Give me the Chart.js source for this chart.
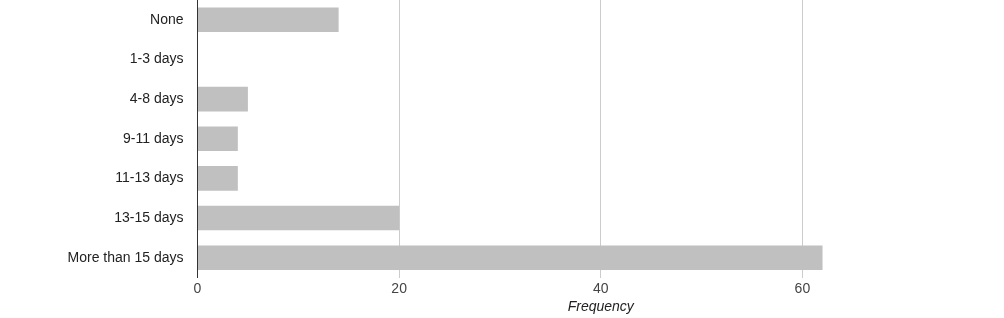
<!DOCTYPE html>
<html>
<head>
<meta charset="utf-8">
<script src="https://cdn.jsdelivr.net/npm/chart.js@4"></script>
<style>
html,body{margin:0;padding:0;background:#fff;}
#wrap{width:1004px;height:318px;position:relative;}
</style>
</head>
<body>
<div id="wrap"><canvas id="c" width="1004" height="318"></canvas></div>
<script>
const categories = ["None", "1-3 days", "4-8 days", "9-11 days", "11-13 days", "13-15 days", "More than 15 days"];
const frequency = [14, 0, 5, 4, 4, 20, 62];
const xTicks = [0, 20, 40, 60];
const xTitle = "Frequency";

const FONT = "'Liberation Sans', Arial, sans-serif";

new Chart(document.getElementById('c'), {
  type: 'bar',
  data: {
    labels: categories,
    datasets: [{
      data: frequency,
      backgroundColor: '#c0c0c0',
      borderWidth: 0,
      categoryPercentage: 1,
      barPercentage: 0.62
    }]
  },
  options: {
    indexAxis: 'y',
    responsive: false,
    animation: false,
    devicePixelRatio: 1,
    layout: { autoPadding: false, padding: { top: -2.5, right: 0, bottom: 0, left: 0 } },
    plugins: { legend: { display: false }, tooltip: { enabled: false } },
    scales: {
      x: {
        min: 0,
        max: 80,
        afterBuildTicks: (s) => { s.ticks = xTicks.map(v => ({ value: v })); },
        afterFit: (s) => { s.height = 40.5; },
        ticks: { color: '#444', font: { family: FONT, size: 14 }, padding: 3.5, maxRotation: 0 },
        grid: {
          drawTicks: false,
          color: (ctx) => (ctx.tick && ctx.tick.value === 0) ? 'rgba(0,0,0,0)' : '#cccccc',
          lineWidth: 1
        },
        border: { display: false },
        title: {
          display: true,
          text: xTitle,
          color: '#222',
          font: { family: FONT, size: 14, style: 'italic' },
          padding: { top: 0, bottom: 2 }
        }
      },
      y: {
        afterFit: (s) => { s.width = 197.5; s.paddingTop = 0; s.paddingBottom = 0; },
        ticks: { color: '#222', font: { family: FONT, size: 14 }, padding: 14 },
        grid: { display: false, drawTicks: false },
        border: { display: true, color: '#333', width: 1 }
      }
    }
  }
});
</script>
</body>
</html>
